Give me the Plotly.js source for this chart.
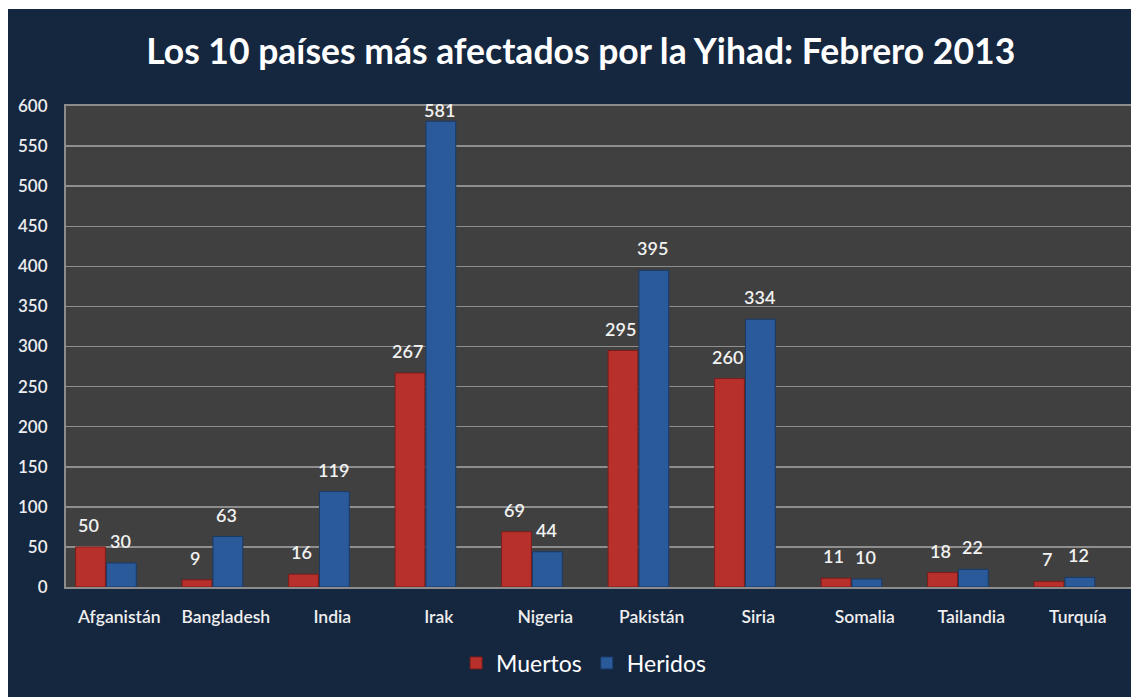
<!DOCTYPE html>
<html>
<head>
<meta charset="utf-8">
<script src="https://cdn.plot.ly/plotly-3.0.1.min.js"></script>
<style>
  html, body { margin: 0; padding: 0; background: #ffffff; width: 1131px; height: 697px; overflow: hidden; }
  #chart { position: absolute; left: 8px; top: 9px; width: 1123px; height: 688px; }
</style>
</head>
<body>
<div id="chart"></div>
<script>
const paises = ["Afganistán", "Bangladesh", "India", "Irak", "Nigeria", "Pakistán", "Siria", "Somalia", "Tailandia", "Turquía"];
const muertos = [50, 9, 16, 267, 69, 295, 260, 11, 18, 7];
const heridos = [30, 63, 119, 581, 44, 395, 334, 10, 22, 12];
const yTicks = [0, 50, 100, 150, 200, 250, 300, 350, 400, 450, 500, 550, 600];

const barW = 0.28;
const offM = -0.41, offH = -0.12;
const pxPerCat = 1065 / paises.length;
const FONT = "Lato, 'Open Sans', sans-serif";

const traces = [
  {
    type: "bar", name: "Muertos", x: paises, y: muertos,
    offset: offM, width: barW,
    marker: { color: "#b8302c", line: { color: "#7a1d1a", width: 1 } },
    hoverinfo: "x+y"
  },
  {
    type: "bar", name: "Heridos", x: paises, y: heridos,
    offset: offH, width: barW,
    marker: { color: "#2a5a9a", line: { color: "#1a3a66", width: 1 } },
    hoverinfo: "x+y"
  }
];

const labelFont = { family: FONT, size: 18, color: "#f2f2f2", weight: 600 };
const annotations = [];
paises.forEach((p, i) => {
  annotations.push({
    x: p, y: muertos[i], xref: "x", yref: "y", text: String(muertos[i]),
    showarrow: false, font: labelFont, yanchor: "bottom",
    xshift: (offM + barW / 2) * pxPerCat - 2, yshift: 9
  });
  annotations.push({
    x: p, y: heridos[i], xref: "x", yref: "y", text: String(heridos[i]),
    showarrow: false, font: labelFont, yanchor: "bottom",
    xshift: (offH + barW / 2) * pxPerCat - 1, yshift: heridos[i] > 560 ? -2 : 9
  });
});

const layout = {
  width: 1123, height: 688,
  paper_bgcolor: "#15263f",
  plot_bgcolor: "#404040",
  margin: { l: 58, r: 0, t: 97, b: 110 },
  title: {
    text: "<b>Los 10 países más afectados por la Yihad: Febrero 2013</b>",
    font: { family: FONT, size: 35.5, color: "#ffffff" },
    x: 0.51, xanchor: "center", xref: "container",
    y: 0.9375, yanchor: "middle", yref: "container"
  },
  barmode: "overlay",
  showlegend: true,
  legend: {
    orientation: "h", x: 0.486, xanchor: "center", y: -0.158, yanchor: "middle",
    font: { family: FONT, size: 23, color: "#ffffff" },
    bgcolor: "rgba(0,0,0,0)", itemwidth: 30
  },
  xaxis: {
    type: "category", categoryorder: "array", categoryarray: paises,
    range: [-0.5, paises.length - 0.5],
    showgrid: false, showline: true, linecolor: "#8c8c8c", linewidth: 2, mirror: true,
    ticks: "", ticklabelstandoff: 13,
    tickfont: { family: FONT, size: 17.5, color: "#eeeeee", weight: 600 },
    fixedrange: true
  },
  yaxis: {
    range: [0, 600], tickvals: yTicks, ticktext: yTicks.map(String),
    showgrid: true, gridcolor: "#8e8e8e", gridwidth: 1.5,
    zeroline: false, showline: true, linecolor: "#8c8c8c", linewidth: 2, mirror: true,
    ticks: "", ticklabelstandoff: 13,
    tickfont: { family: FONT, size: 17, color: "#eeeeee", weight: 600 },
    fixedrange: true
  },
  annotations: annotations
};

Plotly.newPlot("chart", traces, layout, { displayModeBar: false, staticPlot: true });
</script>
</body>
</html>
